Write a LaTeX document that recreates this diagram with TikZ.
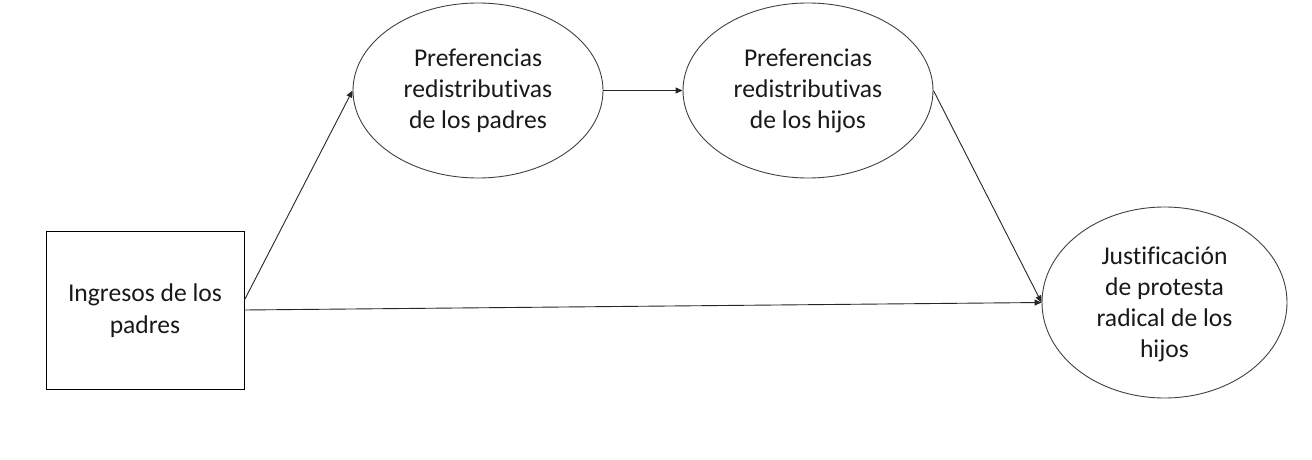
\documentclass[tikz,border=0pt]{standalone}
\usepackage{fontspec}
\setmainfont{Carlito}[Ligatures=NoCommon]
\usetikzlibrary{shapes.geometric,arrows.meta}
\begin{document}
\begin{tikzpicture}[x=1pt,y=-1pt,
  oval/.style={ellipse,draw=black!75,line width=0.9pt,inner sep=0pt},
  sq/.style={rectangle,draw=black,line width=0.9pt,inner sep=0pt},
  lbl/.style={align=center,font=\fontsize{25.6}{31}\selectfont,text=black!90,inner sep=0pt},
  arr/.style={draw=black!85,line width=0.9pt,-{Triangle[length=7pt,width=6pt]}}]
\useasboundingbox (0,0) rectangle (1312,460);
\node[sq,minimum width=198pt,minimum height=158pt] (box) at (145,310) {};
\node[lbl] (tbox) at (145,311) {Ingresos de los\\[1pt]padres};
\node[oval,minimum width=250pt,minimum height=175pt] (e1) at (478,90.5) {};
\node[lbl] (t1) at (478,90.5) {Preferencias\\redistributivas\\de los padres};
\node[oval,minimum width=250pt,minimum height=175pt] (e2) at (808,90.5) {};
\node[lbl] (t2) at (808,90.5) {Preferencias\\redistributivas\\de los hijos};
\node[oval,minimum width=245pt,minimum height=191pt] (e3) at (1164.5,302.5) {};
\node[lbl] (t3) at (1164.5,304) {Justificación\\de protesta\\radical de los\\hijos};
\draw[arr] ([yshift=10pt]box.east) -- (e1.west);
\draw[arr] (box.east) -- (e3.west);
\draw[arr] (e1.east) -- (e2.west);
\draw[arr] (e2.east) -- (e3.west);
\end{tikzpicture}
\end{document}
